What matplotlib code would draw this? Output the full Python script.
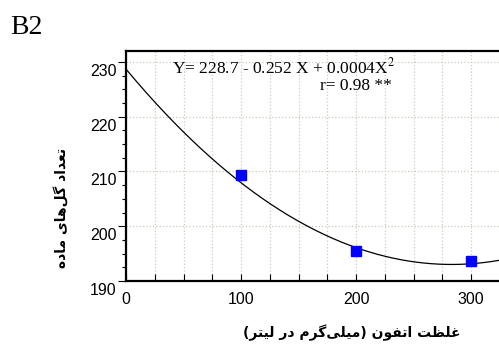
import matplotlib
matplotlib.use("Agg")
import matplotlib.pyplot as plt
import matplotlib.transforms as mtransforms
import numpy as np

plt.rcParams["mathtext.fontset"] = "stix"

# data
conc = [100, 200, 300]
flowers = [209.4, 195.4, 193.6]
fit_coef = [0.000445, -0.252, 228.7]   # X^2, X, const of the drawn regression curve
yticks = [190, 200, 210, 220, 230]
xticks = [0, 100, 200, 300]

eq_text = "Y= 228.7 - 0.252 X + 0.0004X$^{2}$"
r_text = "r= 0.98 **"
panel = "B2"
ylabel = "تعداد گل\u200cهای ماده"
xlabel = "غلظت اتفون (میلی\u200cگرم در لیتر)"

# minimal Persian shaping (matplotlib has no bidi/shaping)
FORMS = {  # isolated, final, initial, medial
    "ا": ("\uFE8D", "\uFE8E", None, None),
    "ت": ("\uFE95", "\uFE96", "\uFE97", "\uFE98"),
    "ع": ("\uFEC9", "\uFECA", "\uFECB", "\uFECC"),
    "د": ("\uFEA9", "\uFEAA", None, None),
    "ر": ("\uFEAD", "\uFEAE", None, None),
    "ظ": ("\uFEC5", "\uFEC6", "\uFEC7", "\uFEC8"),
    "غ": ("\uFECD", "\uFECE", "\uFECF", "\uFED0"),
    "ف": ("\uFED1", "\uFED2", "\uFED3", "\uFED4"),
    "ل": ("\uFEDD", "\uFEDE", "\uFEDF", "\uFEE0"),
    "م": ("\uFEE1", "\uFEE2", "\uFEE3", "\uFEE4"),
    "ن": ("\uFEE5", "\uFEE6", "\uFEE7", "\uFEE8"),
    "ه": ("\uFEE9", "\uFEEA", "\uFEEB", "\uFEEC"),
    "و": ("\uFEED", "\uFEEE", None, None),
    "ی": ("\uFBFC", "\uFBFD", "\uFBFE", "\uFBFF"),
    "گ": ("\uFB92", "\uFB93", "\uFB94", "\uFB95"),
}


def shape(s):
    out = []
    for i, ch in enumerate(s):
        if ch not in FORMS:
            if ch != "\u200c":
                out.append({"(": ")", ")": "("}.get(ch, ch))
            continue
        prev = s[i - 1] if i > 0 else ""
        nxt = s[i + 1] if i + 1 < len(s) else ""
        join_prev = prev in FORMS and FORMS[prev][2] is not None
        join_next = FORMS[ch][2] is not None and nxt in FORMS
        iso, fin, ini, med = FORMS[ch]
        if join_prev and join_next:
            out.append(med)
        elif join_prev:
            out.append(fin)
        elif join_next:
            out.append(ini)
        else:
            out.append(iso)
    return "".join(reversed(out))


fig = plt.figure(figsize=(4.99, 3.44), dpi=100)
ax = fig.add_axes([0.2525, 0.1831, 0.7475, 0.6686])

xs = np.linspace(0, 325, 300)
ax.plot(xs, np.polyval(fit_coef, xs), color="black", lw=0.9, zorder=3)
ax.plot(conc, flowers, "s", color="#0000ff", ms=7, zorder=4, clip_on=False)

ax.set_xlim(0, 324.3)
ax.set_ylim(190, 232)
ax.set_xticks(xticks)
ax.set_xticks(np.arange(0, 325, 25), minor=True)
ax.set_yticks(yticks)
ax.set_yticks(np.arange(190, 232, 2.5), minor=True)
ax.grid(True, which="major", axis="y", color="#cfcabf", ls=":", lw=0.9)
ax.grid(True, which="both", axis="x", color="#cfcabf", ls=":", lw=0.9)

for s in ["left", "bottom", "top"]:
    ax.spines[s].set_linewidth(1.6)
ax.spines["right"].set_visible(False)

ax.tick_params(axis="x", which="both", direction="in", length=5, width=0.8,
               labelsize=11.5, pad=8)
ax.tick_params(axis="y", which="major", direction="out", length=6, width=0.8,
               labelsize=11.5, pad=1)
ax.tick_params(axis="y", which="minor", direction="out", length=3, width=0.8)

shift = mtransforms.ScaledTranslation(0, -8 / 100, fig.dpi_scale_trans)
for lab in ax.get_yticklabels():
    lab.set_fontfamily("Liberation Sans")
    lab.set_transform(lab.get_transform() + shift)
for lab in ax.get_xticklabels():
    lab.set_fontfamily("Liberation Sans")

ax.text(0.124, 0.93, eq_text, transform=ax.transAxes, fontsize=12.5,
        family="Liberation Serif", va="center", ha="left")
ax.text(0.712, 0.85, r_text, transform=ax.transAxes, fontsize=12.5,
        family="Liberation Serif", va="center", ha="right")

fig.text(10 / 499, 1 - 27 / 344, panel, fontsize=20, family="Liberation Serif",
         va="center", ha="left")
fig.text(62 / 499, 1 - 208 / 344, shape(ylabel), rotation=90, fontsize=10,
         fontweight="bold", family="DejaVu Sans", va="center", ha="center")
fig.text(352 / 499, 1 - 333 / 344, shape(xlabel), fontsize=10,
         fontweight="bold", family="DejaVu Sans", va="center", ha="center")

fig.savefig("out.png", dpi=100)
